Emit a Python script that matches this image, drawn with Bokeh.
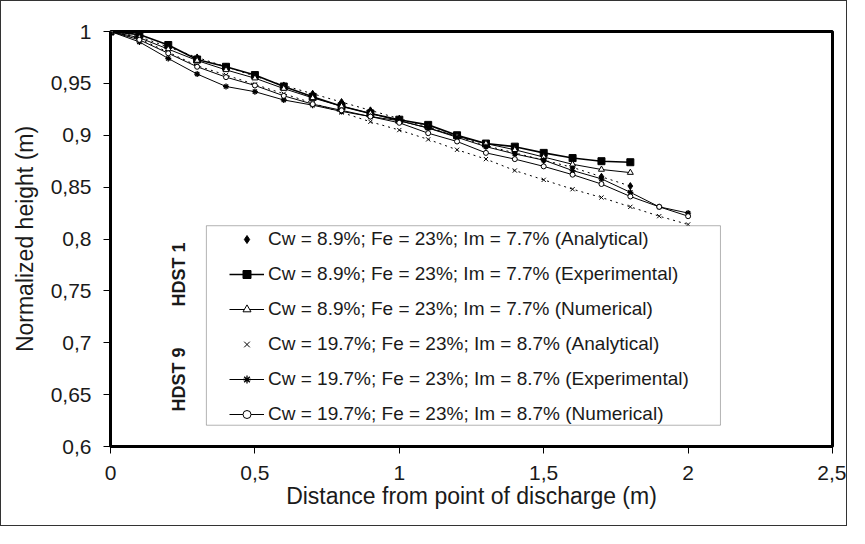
import math
from bokeh.plotting import figure
from bokeh.models import (ColumnDataSource, Legend, LegendItem, FixedTicker,
                          CustomJSTickFormatter, Label, Range1d, BoxAnnotation)
from bokeh.embed import file_html
from bokeh.resources import INLINE

# ---------------- data ----------------
x_hdst1 = [0.0, 0.1, 0.2, 0.3, 0.4, 0.5, 0.6, 0.7, 0.8, 0.9, 1.0,
           1.1, 1.2, 1.3, 1.4, 1.5, 1.6, 1.7, 1.8]
x_hdst9 = [0.0, 0.1, 0.2, 0.3, 0.4, 0.5, 0.6, 0.7, 0.8, 0.9, 1.0,
           1.1, 1.2, 1.3, 1.4, 1.5, 1.6, 1.7, 1.8, 1.9, 2.0]

hdst1_analytical = [1.000, 0.995, 0.985, 0.975, 0.966, 0.957, 0.948, 0.940, 0.932, 0.924,
                    0.916, 0.908, 0.899, 0.890, 0.883, 0.876, 0.869, 0.860, 0.851]
hdst1_experimental = [1.000, 0.997, 0.987, 0.973, 0.966, 0.958, 0.947, 0.937, 0.928, 0.921,
                      0.915, 0.910, 0.900, 0.892, 0.889, 0.883, 0.878, 0.875, 0.874]
hdst1_numerical = [1.000, 0.994, 0.983, 0.972, 0.963, 0.955, 0.945, 0.936, 0.928, 0.921,
                   0.914, 0.907, 0.899, 0.892, 0.886, 0.879, 0.872, 0.867, 0.864]

hdst9_analytical = [1.000, 0.993, 0.980, 0.967, 0.958, 0.949, 0.940, 0.931, 0.922, 0.913,
                    0.905, 0.896, 0.886, 0.877, 0.866, 0.857, 0.848, 0.840, 0.831, 0.822, 0.814]
hdst9_experimental = [1.000, 0.990, 0.974, 0.959, 0.947, 0.942, 0.934, 0.929, 0.923, 0.918,
                      0.914, 0.907, 0.898, 0.889, 0.882, 0.876, 0.866, 0.858, 0.845, 0.831, 0.825]
hdst9_numerical = [1.000, 0.992, 0.979, 0.966, 0.956, 0.948, 0.938, 0.930, 0.924, 0.918,
                   0.912, 0.902, 0.894, 0.883, 0.877, 0.870, 0.862, 0.853, 0.841, 0.831, 0.822]

labels = [
    "Cw = 8.9%; Fe = 23%; Im = 7.7% (Analytical)",
    "Cw = 8.9%; Fe = 23%; Im = 7.7% (Experimental)",
    "Cw = 8.9%; Fe = 23%; Im = 7.7% (Numerical)",
    "Cw = 19.7%; Fe = 23%; Im = 8.7% (Analytical)",
    "Cw = 19.7%; Fe = 23%; Im = 8.7% (Experimental)",
    "Cw = 19.7%; Fe = 23%; Im = 8.7% (Numerical)",
]
group_labels = ["HDST 1", "HDST 9"]

x_ticks = [0, 0.5, 1, 1.5, 2, 2.5]
x_tick_labels = ["0", "0,5", "1", "1,5", "2", "2,5"]
y_ticks = [0.6, 0.65, 0.7, 0.75, 0.8, 0.85, 0.9, 0.95, 1.0]
y_tick_labels = ["0,6", "0,65", "0,7", "0,75", "0,8", "0,85", "0,9", "0,95", "1"]

x_title = "Distance from point of discharge (m)"
y_title = "Normalized height (m)"

# ---------------- styling ----------------
FONT = "Liberation Sans"
TXT = "#1a1a1a"

p = figure(width=847, height=526, output_backend="svg", toolbar_location=None,
           x_range=Range1d(0, 2.5), y_range=Range1d(0.6, 1.0),
           min_border_left=109, min_border_right=16, min_border_top=30,
           min_border_bottom=81)
p.styles = {"border": "1px solid #333333"}
p.background_fill_color = "white"
p.border_fill_color = "white"
p.outline_line_color = "black"
p.outline_line_width = 3
p.xgrid.visible = False
p.ygrid.visible = False

def fmt(tvals, tlabs):
    return CustomJSTickFormatter(args=dict(tv=tvals, tl=tlabs), code="""
        let best = 0;
        for (let i = 0; i < tv.length; i++) {
            if (Math.abs(tv[i] - tick) < Math.abs(tv[best] - tick)) best = i;
        }
        return tl[best];
    """)

p.xaxis.ticker = FixedTicker(ticks=x_ticks)
p.yaxis.ticker = FixedTicker(ticks=y_ticks)
p.xaxis.formatter = fmt(x_ticks, x_tick_labels)
p.yaxis.formatter = fmt(y_ticks, y_tick_labels)
p.xaxis.axis_label = x_title
p.yaxis.axis_label = y_title

for ax in (p.xaxis, p.yaxis):
    ax.axis_line_width = 3
    ax.axis_line_color = "black"
    ax.major_tick_line_color = "black"
    ax.major_tick_line_width = 1
    ax.major_tick_in = 0
    ax.major_tick_out = 7
    ax.minor_tick_line_color = None
    ax.major_label_text_font = FONT
    ax.major_label_text_font_size = "21px"
    ax.major_label_text_color = TXT
    ax.axis_label_text_font = FONT
    ax.axis_label_text_font_size = "23px"
    ax.axis_label_text_font_style = "normal"
    ax.axis_label_text_color = TXT

p.yaxis.major_label_standoff = 12
p.xaxis.major_label_standoff = 12
p.yaxis.axis_label_standoff = 10
p.xaxis.axis_label_standoff = 0

# ---------------- series ----------------
src = {
    "h1a": ColumnDataSource(dict(x=x_hdst1, y=hdst1_analytical)),
    "h1e": ColumnDataSource(dict(x=x_hdst1, y=hdst1_experimental)),
    "h1n": ColumnDataSource(dict(x=x_hdst1, y=hdst1_numerical)),
    "h9a": ColumnDataSource(dict(x=x_hdst9, y=hdst9_analytical)),
    "h9e": ColumnDataSource(dict(x=x_hdst9, y=hdst9_experimental)),
    "h9n": ColumnDataSource(dict(x=x_hdst9, y=hdst9_numerical)),
}

l_h1a = p.line("x", "y", source=src["h1a"], line_color="black", line_width=1, line_dash="2 4")
s_h1a = p.scatter("x", "y", source=src["h1a"], marker="diamond", size=7,
                  fill_color="black", line_color="black")

l_h1e = p.line("x", "y", source=src["h1e"], line_color="black", line_width=1.6)
s_h1e = p.scatter("x", "y", source=src["h1e"], marker="square", size=7,
                  fill_color="black", line_color="black")

l_h1n = p.line("x", "y", source=src["h1n"], line_color="black", line_width=1)
s_h1n = p.scatter("x", "y", source=src["h1n"], marker="triangle", size=6,
                  fill_color="white", line_color="black", line_width=1)

l_h9a = p.line("x", "y", source=src["h9a"], line_color="black", line_width=1, line_dash="2 4")
s_h9a = p.scatter("x", "y", source=src["h9a"], marker="x", size=6,
                  line_color="black", line_width=1)

l_h9e = p.line("x", "y", source=src["h9e"], line_color="black", line_width=1)
s_h9e = p.scatter("x", "y", source=src["h9e"], marker="asterisk", size=6,
                  line_color="black", line_width=1.3)

l_h9n = p.line("x", "y", source=src["h9n"], line_color="black", line_width=1)
s_h9n = p.scatter("x", "y", source=src["h9n"], marker="circle", size=5,
                  fill_color="white", line_color="black", line_width=1)

# legend frame (drawn separately so the glyphs can sit inset like the original)
legend_frame = BoxAnnotation(left=0.332, right=2.112, top=0.8128, bottom=0.6205,
                             fill_color="white", fill_alpha=1.0,
                             line_color="black", line_width=1)
p.add_layout(legend_frame)

items = [
    LegendItem(label=labels[0], renderers=[s_h1a]),
    LegendItem(label=labels[1], renderers=[l_h1e, s_h1e]),
    LegendItem(label=labels[2], renderers=[l_h1n, s_h1n]),
    LegendItem(label=labels[3], renderers=[s_h9a]),
    LegendItem(label=labels[4], renderers=[l_h9e, s_h9e]),
    LegendItem(label=labels[5], renderers=[l_h9n, s_h9n]),
]
legend = Legend(items=items, location=(119, 21), orientation="vertical",
                label_text_font=FONT, label_text_font_size="19px",
                label_text_color=TXT, label_height=20, glyph_height=20,
                glyph_width=35, label_standoff=4, spacing=13, padding=7,
                margin=0, border_line_color=None,
                background_fill_alpha=0)
p.add_layout(legend)

# group labels (rotated, bold) to the left of the legend
group_x = 0.2355
group_y = [0.7657, 0.6647]
for txt, gy in zip(group_labels, group_y):
    p.add_layout(Label(x=group_x, y=gy, text=txt, angle=math.pi / 2,
                       text_align="center", text_baseline="middle",
                       text_font=FONT, text_font_size="18px",
                       text_font_style="bold", text_color=TXT))

open("out.html", "w").write(file_html(p, INLINE))
